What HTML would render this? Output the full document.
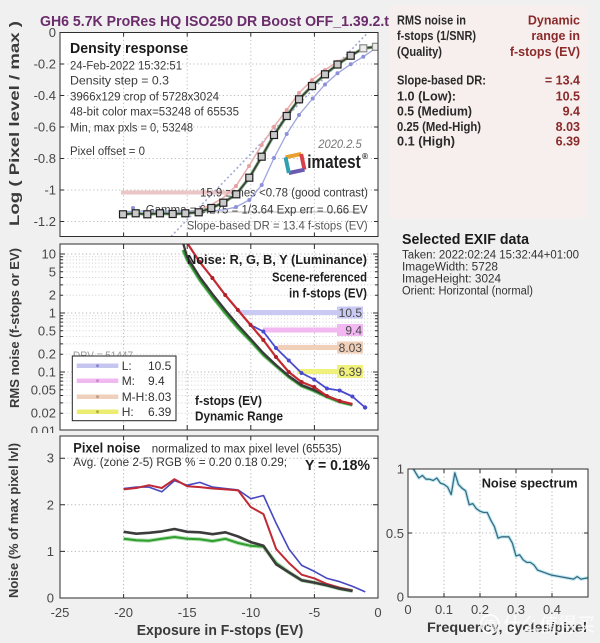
<!DOCTYPE html>
<html><head><meta charset="utf-8">
<style>
html,body{margin:0;padding:0;background:#f0f0f0;}
svg{display:block;font-family:"Liberation Sans",Arial,"Noto Sans CJK SC",sans-serif;}
</style></head>
<body>
<svg width="600" height="643" viewBox="0 0 600 643" xmlns="http://www.w3.org/2000/svg">
<defs>
<clipPath id="cTop"><rect x="60" y="32.5" width="318" height="204"/></clipPath>
<clipPath id="cMid"><rect x="60" y="244" width="318" height="186"/></clipPath>
<clipPath id="cBot"><rect x="60" y="436" width="318" height="162"/></clipPath>
<clipPath id="cSp"><rect x="408" y="469" width="180" height="128"/></clipPath>
</defs>
<rect width="600" height="643" fill="#f0f0f0"/>

<!-- Title -->
<text x="40" y="26" font-size="14.5" font-weight="bold" fill="#6b2c6b" textLength="349" lengthAdjust="spacingAndGlyphs">GH6 5.7K ProRes HQ ISO250 DR Boost OFF_1.39.2.t</text>

<!-- Right info box -->
<rect x="390" y="6" width="198" height="212" fill="#f7efed"/>
<g font-size="12.5" font-weight="bold" fill="#2a2a2a">
<text x="397" y="24.5" textLength="69" lengthAdjust="spacingAndGlyphs">RMS noise in</text>
<text x="397" y="40" textLength="79" lengthAdjust="spacingAndGlyphs">f-stops (1/SNR)</text>
<text x="397" y="56" textLength="45" lengthAdjust="spacingAndGlyphs">(Quality)</text>
<text x="397" y="84.5" textLength="89" lengthAdjust="spacingAndGlyphs">Slope-based DR:</text>
<text x="397" y="100.5" textLength="59" lengthAdjust="spacingAndGlyphs">1.0   (Low):</text>
<text x="397" y="115.5" textLength="75" lengthAdjust="spacingAndGlyphs">0.5   (Medium)</text>
<text x="397" y="130.8" textLength="84" lengthAdjust="spacingAndGlyphs">0.25 (Med-High)</text>
<text x="397" y="145.5" textLength="58" lengthAdjust="spacingAndGlyphs">0.1   (High)</text>
</g>
<g font-size="12.5" font-weight="bold" fill="#8a2a2a" text-anchor="end">
<text x="580" y="24.5">Dynamic</text>
<text x="580" y="40">range in</text>
<text x="580" y="56">f-stops (EV)</text>
<text x="580" y="84.5">= 13.4</text>
<text x="580" y="100.5">10.5</text>
<text x="580" y="115.5">9.4</text>
<text x="580" y="130.8">8.03</text>
<text x="580" y="145.5">6.39</text>
</g>

<!-- EXIF -->
<text x="402" y="244" font-size="15" font-weight="bold" fill="#1a1a1a" textLength="127" lengthAdjust="spacingAndGlyphs">Selected EXIF data</text>
<g font-size="11.5" fill="#333">
<text x="402" y="258.5" textLength="177" lengthAdjust="spacingAndGlyphs">Taken: 2022:02:24 15:32:44+01:00</text>
<text x="402" y="270.5" textLength="96" lengthAdjust="spacingAndGlyphs">ImageWidth:  5728</text>
<text x="402" y="282.5" textLength="99" lengthAdjust="spacingAndGlyphs">ImageHeight:  3024</text>
<text x="402" y="294.5" textLength="131" lengthAdjust="spacingAndGlyphs">Orient: Horizontal (normal)</text>
</g>

<!-- ================= TOP PLOT ================= -->
<rect x="60" y="32.5" width="318" height="204" fill="#fff"/>
<g stroke="#bdbdbd" stroke-width="1" stroke-dasharray="1.2,2.5" fill="none">
<line x1="60" y1="64" x2="378" y2="64"/><line x1="60" y1="95.5" x2="378" y2="95.5"/>
<line x1="60" y1="127" x2="378" y2="127"/><line x1="60" y1="158.5" x2="378" y2="158.5"/>
<line x1="60" y1="190" x2="378" y2="190"/><line x1="60" y1="221.5" x2="378" y2="221.5"/>
<line x1="123.6" y1="32.5" x2="123.6" y2="236.5"/><line x1="187.2" y1="32.5" x2="187.2" y2="236.5"/>
<line x1="250.8" y1="32.5" x2="250.8" y2="236.5"/><line x1="314.4" y1="32.5" x2="314.4" y2="236.5"/>
</g>
<line x1="121" y1="192.5" x2="232" y2="192.5" stroke="#ecc6c6" stroke-width="4"/>
<line x1="200" y1="212" x2="362" y2="212" stroke="#cfcfcf" stroke-width="1.5"/>
<g clip-path="url(#cTop)">
<line x1="171" y1="236.5" x2="368" y2="32.5" stroke="#a4aad4" stroke-width="1.6" stroke-dasharray="2,2.5"/>
</g>
<!-- text top plot -->
<text x="70" y="53" font-size="14.5" font-weight="bold" fill="#1a1a1a" textLength="118" lengthAdjust="spacingAndGlyphs">Density response</text>
<g font-size="11.5" fill="#3a3a3a">
<text x="70" y="69.7" textLength="112" lengthAdjust="spacingAndGlyphs">24-Feb-2022 15:32:51</text>
<text x="70" y="84.7" textLength="99" lengthAdjust="spacingAndGlyphs">Density step = 0.3</text>
<text x="70" y="100.7" textLength="149" lengthAdjust="spacingAndGlyphs">3966x129 crop of 5728x3024</text>
<text x="70" y="115.7" textLength="169" lengthAdjust="spacingAndGlyphs">48-bit color  max=53248 of 65535</text>
<text x="70" y="131.3" textLength="123" lengthAdjust="spacingAndGlyphs">Min, max pxls = 0, 53248</text>
<text x="70" y="155" textLength="75" lengthAdjust="spacingAndGlyphs">Pixel offset = 0</text>
<text x="200" y="196.7" textLength="168" lengthAdjust="spacingAndGlyphs">15.9 zones &lt;0.78 (good contrast)</text>
<text x="145.7" y="213.3" textLength="222" lengthAdjust="spacingAndGlyphs">Gamma = 0.275 = 1/3.64  Exp err = 0.66 EV</text>
<text x="186.7" y="229.7" fill="#555" textLength="181" lengthAdjust="spacingAndGlyphs">Slope-based DR = 13.4 f-stops (EV)</text>
</g>
<text x="318.3" y="148" font-size="12" font-style="italic" fill="#777" textLength="43.4" lengthAdjust="spacingAndGlyphs">2020.2.5</text>
<!-- imatest logo -->
<g transform="translate(295,163.5) rotate(-12)">
<rect x="-8" y="-8" width="16" height="16" fill="none" stroke="#e8a030" stroke-width="4" stroke-dasharray="16,48"/>
<path d="M8,-8 L8,8" stroke="#d8404a" stroke-width="4"/>
<path d="M8,8 L-8,8" stroke="#6a5ab0" stroke-width="4"/>
<path d="M-8,8 L-8,-8" stroke="#30a0b0" stroke-width="4"/>
</g>
<text x="307.3" y="168" font-size="18" font-weight="bold" fill="#222" textLength="53.4" lengthAdjust="spacingAndGlyphs">imatest</text>
<text x="362" y="159" font-size="8" font-weight="bold" fill="#222">®</text>

<!-- curves top -->
<g clip-path="url(#cTop)">
<polyline fill="none" stroke="#e9b0b0" stroke-width="1.6" points="123,214 136,213 148,214 160,213 173,213 185,212 198,210 211,205 223,198 236,186 249,166 261.7,145 274,126.7 286.7,110 299,93 312,80 325,70 337.5,61.7 350.7,55 363.3,48.3 376,47"/>
<g fill="#e6a0a0"><circle cx="236" cy="186" r="2"/><circle cx="249" cy="166" r="2"/><circle cx="261.7" cy="145" r="2"/><circle cx="274" cy="126.7" r="2"/><circle cx="286.7" cy="110" r="2"/><circle cx="299" cy="93" r="2"/><circle cx="312" cy="80" r="2"/><circle cx="325" cy="70" r="2"/><circle cx="337.5" cy="61.7" r="2"/><circle cx="350.7" cy="55" r="2"/></g>
<polyline fill="none" stroke="#9ea4de" stroke-width="1.3" points="123,212 136,211 148,211 160,211 173,211 185,211 198,211 211,211 223,210 236,207 249.3,200 261.7,185 274,158 286.7,134 299,115 312.7,98.5 325,84.5 337.5,73.3 350.7,64.3 363.3,56.7 376,48"/>
<g fill="#8c92da"><circle cx="133" cy="208" r="2"/><circle cx="236" cy="207" r="2"/><circle cx="249.3" cy="200" r="2"/><circle cx="261.7" cy="185" r="2"/><circle cx="274" cy="158" r="2"/><circle cx="286.7" cy="134" r="2"/><circle cx="299" cy="115" r="2"/><circle cx="312.7" cy="98.5" r="2"/><circle cx="325" cy="84.5" r="2"/><circle cx="337.5" cy="73.3" r="2"/><circle cx="350.7" cy="64.3" r="2"/><circle cx="363.3" cy="56.7" r="2"/></g>
<polyline fill="none" stroke="#7fae7f" stroke-width="3.2" points="123,214.3 135.7,213.3 147.3,214.3 160,213.3 172.7,214 185.3,213.3 198.7,212.3 211.3,208 223.3,202.7 236.3,194.3 249.3,177.7 261.7,156.7 274,135 286.7,116 299,99.3 312,86 325,74.3 337.5,64.5 350.7,55.7 363.3,48.3 376,46.8"/>
<polyline fill="none" stroke="#3c3c3c" stroke-width="1.6" points="123,214.3 135.7,213.3 147.3,214.3 160,213.3 172.7,214 185.3,213.3 198.7,212.3 211.3,208 223.3,202.7 236.3,194.3 249.3,177.7 261.7,156.7 274,135 286.7,116 299,99.3 312,86 325,74.3 337.5,64.5 350.7,55.7 363.3,48.3 376,46.8"/>
<g fill="#c9c9c9" stroke="#1e1e1e" stroke-width="1.2">
<rect x="119.5" y="210.8" width="7" height="7"/><rect x="132.2" y="209.8" width="7" height="7"/><rect x="143.8" y="210.8" width="7" height="7"/><rect x="156.5" y="209.8" width="7" height="7"/><rect x="169.2" y="210.5" width="7" height="7"/><rect x="181.8" y="209.8" width="7" height="7"/><rect x="195.2" y="208.8" width="7" height="7"/><rect x="207.8" y="204.5" width="7" height="7"/><rect x="219.8" y="199.2" width="7" height="7"/><rect x="232.8" y="190.8" width="7" height="7"/><rect x="245.8" y="174.2" width="7" height="7"/><rect x="258.2" y="153.2" width="7" height="7"/><rect x="270.5" y="131.5" width="7" height="7"/><rect x="283.2" y="112.5" width="7" height="7"/><rect x="295.5" y="95.8" width="7" height="7"/><rect x="308.5" y="82.5" width="7" height="7"/><rect x="321.5" y="70.8" width="7" height="7"/><rect x="334" y="61" width="7" height="7"/><rect x="347.2" y="52.2" width="7" height="7"/>
</g>
<g fill="#ececec" stroke="#8a8a8a" stroke-width="1.2"><rect x="359.8" y="44.8" width="7" height="7"/><rect x="372.5" y="43.3" width="7" height="7"/></g>
</g>
<rect x="60" y="32.5" width="318" height="204" fill="none" stroke="#2e2e2e" stroke-width="1"/>
<g stroke="#2e2e2e" stroke-width="1">
<path d="M60,64h4M60,95.5h4M60,127h4M60,158.5h4M60,190h4M60,221.5h4M378,64h-4M378,95.5h-4M378,127h-4M378,158.5h-4M378,190h-4M378,221.5h-4"/>
<path d="M123.6,32.5v4M187.2,32.5v4M250.8,32.5v4M314.4,32.5v4M123.6,236.5v-4M187.2,236.5v-4M250.8,236.5v-4M314.4,236.5v-4"/>
</g>
<g font-size="13" fill="#474747" text-anchor="end">
<text x="56" y="37">0</text><text x="56" y="68.5">-0.2</text><text x="56" y="100">-0.4</text><text x="56" y="131.5">-0.6</text><text x="56" y="163">-0.8</text><text x="56" y="194.5">-1</text><text x="56" y="226">-1.2</text>
</g>
<text transform="translate(19,123.5) rotate(-90)" text-anchor="middle" font-size="13.5" font-weight="bold" fill="#3a3a3a" textLength="205" lengthAdjust="spacingAndGlyphs">Log ( Pixel level / max )</text>

<!-- ================= MIDDLE PLOT ================= -->
<rect x="60" y="244" width="318" height="186" fill="#fff"/>
<g stroke="#d0d0d0" stroke-width="1" stroke-dasharray="1,2.2" fill="none">
<path d="M60,413.2H378M60,402.9H378M60,395.5H378M60,389.8H378M60,385.1H378M60,381.1H378M60,377.7H378M60,374.7H378M60,354.2H378M60,343.9H378M60,336.5H378M60,330.8H378M60,326.1H378M60,322.1H378M60,318.7H378M60,315.7H378M60,295.2H378M60,284.9H378M60,277.5H378M60,271.8H378M60,267.1H378M60,263.1H378M60,259.7H378M60,256.7H378"/>
</g>
<g stroke="#b5b5b5" stroke-width="1" stroke-dasharray="1.2,2.5" fill="none">
<path d="M60,254H378M60,313H378M60,372H378"/>
<path d="M123.6,244V430M187.2,244V430M250.8,244V430M314.4,244V430"/>
</g>
<!-- bands -->
<g stroke-width="5">
<line x1="240" y1="312.5" x2="363" y2="312.5" stroke="#c9c9f3"/>
<line x1="263" y1="330" x2="363" y2="330" stroke="#f2b8f2"/>
<line x1="278" y1="347.5" x2="363" y2="347.5" stroke="#f1cfb8"/>
<line x1="297" y1="371.5" x2="363" y2="371.5" stroke="#f0f07c"/>
</g>
<rect x="337" y="306.5" width="26" height="12" fill="#c9c9f3"/>
<rect x="337" y="324" width="26" height="12" fill="#f2b8f2"/>
<rect x="337" y="341.5" width="26" height="12" fill="#f1cfb8"/>
<rect x="337" y="365" width="26" height="13" fill="#f0f07c"/>
<g font-size="12" fill="#4a4a4a" text-anchor="end">
<text x="362" y="317">10.5</text><text x="362" y="334.5">9.4</text><text x="362" y="352">8.03</text><text x="362" y="376">6.39</text>
</g>
<g clip-path="url(#cMid)" fill="none" stroke-linejoin="round">
<polyline stroke="#38a838" stroke-width="3.5" opacity="0.55" points="183,250 187.2,260 199.7,280 212.4,297 225.2,313 237.9,328 250.6,341 263.3,355 276,366 288.8,377 301.5,386 314.2,391 326.9,397 339.6,402 352.4,405"/>
<polyline stroke="#2e9a2e" stroke-width="2" points="183,250 187.2,260 199.7,280 212.4,297 225.2,313 237.9,328 250.6,341 263.3,355 276,366 288.8,377 301.5,386 314.2,391 326.9,397 339.6,402 352.4,405"/>
<polyline stroke="#3a3a3a" stroke-width="2.3" points="181,236 187.2,257 199.7,277 212.4,294 225.2,310 237.9,325 250.6,339 263.3,353 276,365 288.8,376 301.5,385 314.2,390 326.9,396 339.6,401 352.4,404.5"/>
<polyline stroke="#4a4ad0" stroke-width="1.8" points="183,228 187.2,243 199.7,262 212.4,278 225.2,295 237.9,310 250.6,325 263.3,331.5 276,348 288.8,360.5 301.5,373 314.2,379.5 326.9,388.5 339.6,390.5 352.4,396.5 365.1,407.5"/>
<polyline stroke="#c42a30" stroke-width="2.2" points="183,228 187.2,243 199.7,262 212.4,278 225.2,295 237.9,310 250.6,325 263.3,340 276,357 288.8,372 301.5,382 314.2,387 326.9,396 339.6,401 352.4,404"/>
<g fill="#4a4ad0" stroke="none"><circle cx="263.3" cy="331.5" r="2"/><circle cx="276" cy="348" r="2"/><circle cx="288.8" cy="360.5" r="2"/><circle cx="301.5" cy="373" r="2"/><circle cx="314.2" cy="379.5" r="2"/><circle cx="326.9" cy="388.5" r="2"/><circle cx="339.6" cy="390.5" r="2"/><circle cx="352.4" cy="396.5" r="2"/><circle cx="365.1" cy="407.5" r="2.2"/></g>
<g fill="#b02028" stroke="none"><circle cx="199.7" cy="262" r="2"/><circle cx="212.4" cy="278" r="2"/><circle cx="225.2" cy="295" r="2"/><circle cx="237.9" cy="310" r="2"/><circle cx="250.6" cy="325" r="2"/><circle cx="263.3" cy="340" r="2"/><circle cx="276" cy="357" r="2"/><circle cx="288.8" cy="372" r="2"/><circle cx="301.5" cy="382" r="2"/><circle cx="314.2" cy="387" r="2"/><circle cx="326.9" cy="396" r="2"/><circle cx="339.6" cy="401" r="2"/></g>
</g>
<g font-size="12.5" font-weight="bold" fill="#1e1e1e">
<text x="187" y="264" textLength="180" lengthAdjust="spacingAndGlyphs">Noise: R, G, B, Y (Luminance)</text>
<text x="367" y="281.7" text-anchor="end" textLength="95" lengthAdjust="spacingAndGlyphs">Scene-referenced</text>
<text x="367" y="297.3" text-anchor="end" textLength="78" lengthAdjust="spacingAndGlyphs">in f-stops (EV)</text>
<text x="195" y="405" textLength="67" lengthAdjust="spacingAndGlyphs">f-stops (EV)</text>
<text x="195" y="420.7" textLength="88" lengthAdjust="spacingAndGlyphs">Dynamic Range</text>
</g>
<text x="73" y="359" font-size="11" fill="#999" textLength="60" lengthAdjust="spacingAndGlyphs">DRV = 51447</text>
<!-- legend -->
<rect x="72.3" y="356" width="103.7" height="64.7" fill="#fff" stroke="#222" stroke-width="1"/>
<g stroke-width="4.5">
<line x1="76.7" y1="365.7" x2="118.3" y2="365.7" stroke="#c5c5f0"/>
<line x1="76.7" y1="380.7" x2="118.3" y2="380.7" stroke="#f0baf0"/>
<line x1="76.7" y1="396.7" x2="118.3" y2="396.7" stroke="#efd0bc"/>
<line x1="76.7" y1="411.7" x2="118.3" y2="411.7" stroke="#ecec70"/>
</g>
<g fill="#8888cc"><circle cx="97.5" cy="365.7" r="1.5"/></g>
<g fill="#cc88cc"><circle cx="97.5" cy="380.7" r="1.5"/></g>
<g fill="#c09c88"><circle cx="97.5" cy="396.7" r="1.5"/></g>
<g fill="#b0b040"><circle cx="97.5" cy="411.7" r="1.5"/></g>
<g font-size="12" fill="#333">
<text x="121.7" y="370">L:</text><text x="121.7" y="385">M:</text><text x="121.7" y="401">M-H:</text><text x="121.7" y="416">H:</text>
<text x="148" y="370">10.5</text><text x="148" y="385">9.4</text><text x="148" y="401">8.03</text><text x="148" y="416">6.39</text>
</g>
<rect x="60" y="244" width="318" height="186" fill="none" stroke="#2e2e2e" stroke-width="1"/>
<g stroke="#2e2e2e" stroke-width="1">
<path d="M60,254h5M60,313h5M60,372h5M378,254h-5M378,313h-5M378,372h-5"/>
<path d="M60,413.2h3M60,402.9h3M60,395.5h3M60,389.8h3M60,385.1h3M60,381.1h3M60,377.7h3M60,374.7h3M60,354.2h3M60,343.9h3M60,336.5h3M60,330.8h3M60,326.1h3M60,322.1h3M60,318.7h3M60,315.7h3M60,295.2h3M60,284.9h3M60,277.5h3M60,271.8h3M60,267.1h3M60,263.1h3M60,259.7h3M60,256.7h3"/>
<path d="M378,413.2h-3M378,402.9h-3M378,395.5h-3M378,389.8h-3M378,385.1h-3M378,381.1h-3M378,377.7h-3M378,374.7h-3M378,354.2h-3M378,343.9h-3M378,336.5h-3M378,330.8h-3M378,326.1h-3M378,322.1h-3M378,318.7h-3M378,315.7h-3M378,295.2h-3M378,284.9h-3M378,277.5h-3M378,271.8h-3M378,267.1h-3M378,263.1h-3M378,259.7h-3M378,256.7h-3"/>
<path d="M123.6,244v5M187.2,244v5M250.8,244v5M314.4,244v5M123.6,430v-5M187.2,430v-5M250.8,430v-5M314.4,430v-5"/>
</g>
<g font-size="13" fill="#474747" text-anchor="end">
<text x="56" y="258.5">10</text><text x="56" y="276.3">5</text><text x="56" y="299.7">2</text><text x="56" y="317.5">1</text><text x="56" y="335.3">0.5</text><text x="56" y="358.7">0.2</text><text x="56" y="376.5">0.1</text><text x="56" y="394.3">0.05</text><text x="56" y="417.7">0.02</text><text x="56" y="435.5">0.01</text>
</g>
<rect x="0" y="433" width="59" height="4" fill="#f0f0f0"/>
<text transform="translate(19,328) rotate(-90)" text-anchor="middle" font-size="13" font-weight="bold" fill="#3a3a3a" textLength="160" lengthAdjust="spacingAndGlyphs">RMS noise (f-stops or EV)</text>

<!-- ================= BOTTOM PLOT ================= -->
<rect x="60" y="436" width="318" height="162" fill="#fff"/>
<g stroke="#b5b5b5" stroke-width="1" stroke-dasharray="1.2,2.5" fill="none">
<path d="M60,551.4H378M60,504.8H378M60,458.2H378"/>
<path d="M123.6,436V598M187.2,436V598M250.8,436V598M314.4,436V598"/>
</g>
<g font-size="13.5" font-weight="bold" fill="#1e1e1e">
<text x="73.3" y="452.5" textLength="67" lengthAdjust="spacingAndGlyphs">Pixel noise</text>
<text x="305" y="470" font-size="14.5" textLength="65" lengthAdjust="spacingAndGlyphs">Y = 0.18%</text>
</g>
<g font-size="11.5" fill="#333">
<text x="151.7" y="452.5" textLength="190" lengthAdjust="spacingAndGlyphs">normalized to max pixel level (65535)</text>
<text x="73.3" y="466" textLength="213.7" lengthAdjust="spacingAndGlyphs">Avg. (zone 2-5) RGB % = 0.20  0.18  0.29;</text>
</g>
<g clip-path="url(#cBot)" fill="none" stroke-linejoin="round">
<polyline stroke="#40b040" stroke-width="4" opacity="0.4" points="123.6,538.8 136.3,540.2 149,540.7 161.8,538.8 174.5,537 187.2,538.8 199.9,539.3 212.6,541.1 225.4,538.8 238.1,543 250.8,545.8 263.5,546.7 276.2,563 289,572.4 301.7,580.3 314.4,582.6 327.1,585.4 339.8,588.7 352.6,591"/>
<polyline stroke="#2e9e2e" stroke-width="2" points="123.6,538.8 136.3,540.2 149,540.7 161.8,538.8 174.5,537 187.2,538.8 199.9,539.3 212.6,541.1 225.4,538.8 238.1,543 250.8,545.8 263.5,546.7 276.2,563 289,572.4 301.7,580.3 314.4,582.6 327.1,585.4 339.8,588.7 352.6,591"/>
<polyline stroke="#4848c0" stroke-width="1.6" points="123.6,488.5 136.3,487.1 149,487.1 161.8,491.8 174.5,480.6 187.2,485.2 199.9,482.4 212.6,487.1 225.4,488.5 238.1,489.9 250.8,498.7 263.5,495.5 276.2,523.4 289,549.1 301.7,565.4 314.4,571.4 327.1,578.4 339.8,581.7 352.6,586.4 365.3,591.9"/>
<polyline stroke="#c02a34" stroke-width="2" points="123.6,489.4 136.3,488 149,485.2 161.8,488 174.5,479.2 187.2,486.2 199.9,487.1 212.6,488.5 225.4,489.4 238.1,490.4 250.8,507.1 263.5,514.1 276.2,549.1 289,563 301.7,574.7 314.4,578.4 327.1,584 339.8,587.7 352.6,590.5"/>
<polyline stroke="#3c3c3c" stroke-width="2.6" points="123.6,531.8 136.3,533.7 149,532.8 161.8,531.4 174.5,529 187.2,531.8 199.9,532.3 212.6,534.2 225.4,532.3 238.1,536.5 250.8,542.1 263.5,545.8 276.2,564.4 289,572.4 301.7,580.3 314.4,582.6 327.1,585.4 339.8,588.7 352.6,591"/>
</g>
<rect x="60" y="436" width="318" height="162" fill="none" stroke="#2e2e2e" stroke-width="1"/>
<g stroke="#2e2e2e" stroke-width="1">
<path d="M60,551.4h5M60,504.8h5M60,458.2h5M378,551.4h-5M378,504.8h-5M378,458.2h-5"/>
<path d="M123.6,436v4M187.2,436v4M250.8,436v4M314.4,436v4M123.6,598v-4M187.2,598v-4M250.8,598v-4M314.4,598v-4"/>
</g>
<g font-size="13" fill="#474747" text-anchor="end">
<text x="54" y="462.7">3</text><text x="54" y="509.3">2</text><text x="54" y="555.9">1</text><text x="54" y="602.5">0</text>
</g>
<g font-size="13" fill="#474747" text-anchor="middle">
<text x="60" y="617">-25</text><text x="123.6" y="617">-20</text><text x="187.2" y="617">-15</text><text x="250.8" y="617">-10</text><text x="314.4" y="617">-5</text><text x="378" y="617">0</text>
</g>
<text transform="translate(18,520.5) rotate(-90)" text-anchor="middle" font-size="13" font-weight="bold" fill="#3a3a3a" textLength="155" lengthAdjust="spacingAndGlyphs">Noise (% of max pixel lvl)</text>
<text x="136.7" y="635" font-size="14.5" font-weight="bold" fill="#3a3a3a" textLength="166.6" lengthAdjust="spacingAndGlyphs">Exposure in F-stops (EV)</text>

<!-- ================= NOISE SPECTRUM ================= -->
<rect x="408" y="469" width="180" height="128" fill="#fff"/>
<g stroke="#b5b5b5" stroke-width="1" stroke-dasharray="1.2,2.5" fill="none">
<path d="M408,533H588"/>
<path d="M444,469V597M480,469V597M516,469V597M552,469V597"/>
</g>
<g clip-path="url(#cSp)" fill="none" stroke-linejoin="round">
<polyline stroke="#aee6f0" stroke-width="3.5" opacity="0.8" points="413.4,469 418.8,478 422.4,475.4 426,479.2 429.6,479.2 433.2,480.5 436.8,478 440.4,483.1 444,484.4 447.6,487 451.2,494.6 454.8,472.8 458.4,484.4 462,488.2 465.6,490.8 469.2,504.8 472.8,503.6 476.4,508.7 480,511.2 483.6,512.5 487.2,512.5 490.8,520.2 494.4,526.6 498,538.1 501.6,536.8 505.2,536.8 508.8,536.8 512.4,543.2 516,556 519.6,554.8 523.2,559.9 526.8,562.4 530.4,562.4 534,565 537.6,570.1 541.2,571.4 544.8,572.7 548.4,574 552,575.2 559.2,576.5 566.4,577.8 573.6,579.1 577.2,576.5 580.8,579.1 588,577.8"/>
<polyline stroke="#3d6a82" stroke-width="1.3" points="413.4,469 418.8,478 422.4,475.4 426,479.2 429.6,479.2 433.2,480.5 436.8,478 440.4,483.1 444,484.4 447.6,487 451.2,494.6 454.8,472.8 458.4,484.4 462,488.2 465.6,490.8 469.2,504.8 472.8,503.6 476.4,508.7 480,511.2 483.6,512.5 487.2,512.5 490.8,520.2 494.4,526.6 498,538.1 501.6,536.8 505.2,536.8 508.8,536.8 512.4,543.2 516,556 519.6,554.8 523.2,559.9 526.8,562.4 530.4,562.4 534,565 537.6,570.1 541.2,571.4 544.8,572.7 548.4,574 552,575.2 559.2,576.5 566.4,577.8 573.6,579.1 577.2,576.5 580.8,579.1 588,577.8"/>
</g>
<text x="481.7" y="487.5" font-size="13" font-weight="bold" fill="#1e1e1e" textLength="96" lengthAdjust="spacingAndGlyphs">Noise spectrum</text>
<rect x="408" y="469" width="180" height="128" fill="none" stroke="#2e2e2e" stroke-width="1"/>
<g stroke="#2e2e2e" stroke-width="1">
<path d="M408,533h4M588,533h-4M444,597v-4M480,597v-4M516,597v-4M552,597v-4M444,469v4M480,469v4M516,469v4M552,469v4"/>
</g>
<g font-size="13" fill="#474747" text-anchor="end">
<text x="404" y="473.5">1</text><text x="404" y="538">0.5</text><text x="404" y="601.5">0</text>
</g>
<g font-size="13" fill="#474747" text-anchor="middle">
<text x="408" y="614">0</text><text x="444" y="614">0.1</text><text x="480" y="614">0.2</text><text x="516" y="614">0.3</text><text x="552" y="614">0.4</text>
</g>
<text x="427" y="632" font-size="13.5" font-weight="bold" fill="#3a3a3a" textLength="160" lengthAdjust="spacingAndGlyphs">Frequency, cycles/pixel</text>
<!-- watermark -->
<g opacity="0.85">
<circle cx="490" cy="624" r="9" fill="none" stroke="#ffffff" stroke-width="2"/>
<text x="490" y="629" font-size="12" fill="#ffffff" text-anchor="middle" font-family="'Noto Sans CJK SC',sans-serif">值</text>
<text x="503" y="631" font-size="19" fill="#ffffff" font-family="'Liberation Sans','Noto Sans CJK SC',sans-serif" textLength="92" lengthAdjust="spacingAndGlyphs">什么值得买</text>
</g>
</svg>
</body></html>
